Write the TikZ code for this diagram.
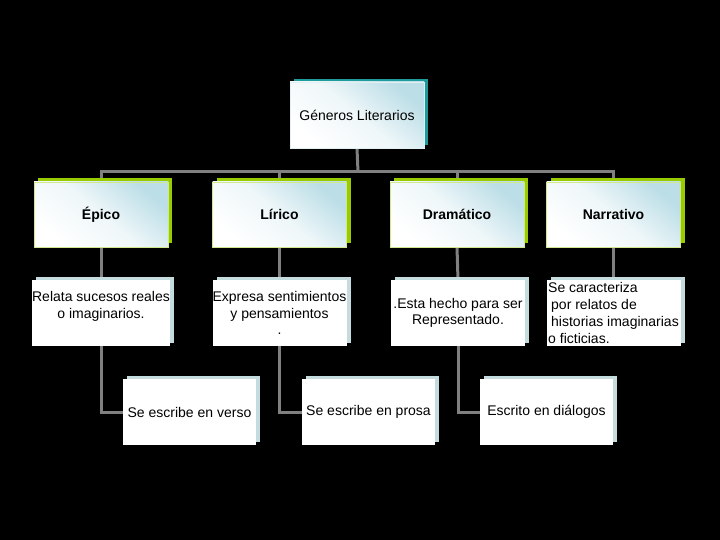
\documentclass[tikz,border=0pt]{standalone}
\usepackage{fontspec}
\setmainfont{Liberation Sans}
\usetikzlibrary{shadows}
\definecolor{shTeal}{HTML}{1E9C9C}
\definecolor{shGreen}{HTML}{99CC00}
\definecolor{shBlue}{HTML}{C4DCDE}
\definecolor{gradBlue}{HTML}{B4DAE4}
\definecolor{lineGray}{HTML}{808080}
\pgfdeclarelayer{bglayer}
\pgfdeclarelayer{linelayer}
\pgfsetlayers{bglayer,linelayer,main}
\tikzset{
  box/.style={minimum width=134pt, minimum height=66pt, inner sep=0pt,
    font=\fontsize{14}{16.7}\selectfont, align=center},
  softgrad/.style={top color=gradBlue!90!white, bottom color=white, middle color=gradBlue!22!white, shading angle=-40},
  topbox/.style={box, general shadow={shadow xshift=4pt, shadow yshift=3pt, fill=shTeal},
    softgrad, draw=gradBlue!40!white, line width=0.6pt},
  genbox/.style={box, minimum height=65pt, font=\fontsize{14}{16.7}\selectfont\bfseries,
    general shadow={shadow xshift=4pt, shadow yshift=4pt, fill=shGreen},
    softgrad, draw=shGreen!45!white, line width=0.6pt},
  descbox/.style={box, general shadow={shadow xshift=4pt, shadow yshift=3pt, fill=shBlue},
    fill=white},
  conn/.style={draw=lineGray, line width=3pt},
}
\begin{document}
\begin{tikzpicture}[x=1pt,y=-1pt]
\begin{pgfonlayer}{bglayer}
\fill[black] (0,0) rectangle (720,540);
\end{pgfonlayer}
\useasboundingbox (0,0) rectangle (720,540);

\node[topbox] (top) at (357,115) {Géneros Literarios};

\node[genbox] (epico) at (101,214.5) {Épico};
\node[genbox] (lirico) at (279.5,214.5) {Lírico};
\node[genbox] (dram) at (457,214.5) {Dramático};
\node[genbox] (narr) at (613.5,214.5) {Narrativo};

\node[descbox] (epicod) at (101,313) {Relata sucesos reales\\o imaginarios.\\\mbox{}};
\node[descbox] (lirod) at (279.5,313) {Expresa sentimientos\\y pensamientos\\.};
\node[descbox] (dramd) at (458,313) {.Esta hecho para ser\\Representado.};
\node[descbox, align=left] (narrd) at (613.5,313) {Se caracteriza\\\hspace*{3pt}por relatos de\\\hspace*{3pt}historias imaginarias\\o ficticias.};

\node[descbox, minimum width=133pt] (verso) at (189.5,412) {Se escribe en verso};
\node[descbox, minimum width=133pt] (prosa) at (368.5,412) {Se escribe en prosa};
\node[descbox, minimum width=133pt] (dialog) at (546.5,412) {Escrito en diálogos};

\coordinate (bus) at (358,172);

\begin{pgfonlayer}{linelayer}
\draw[conn] (top.south) -- (bus);
\draw[conn] (epico.north) |- (bus) -| (narr.north);
\draw[conn] (lirico.north) -- (lirico.north |- bus);
\draw[conn] (dram.north) -- (dram.north |- bus);
\draw[conn] (epico.south) -- (epicod.north);
\draw[conn] (lirico.south) -- (lirod.north);
\draw[conn] (dram.south) -- (dramd.north);
\draw[conn] (narr.south) -- (narrd.north);
\draw[conn] (epicod.south) |- (verso.west);
\draw[conn] (lirod.south) |- (prosa.west);
\draw[conn] (dramd.south) |- (dialog.west);
\end{pgfonlayer}
\end{tikzpicture}
\end{document}
